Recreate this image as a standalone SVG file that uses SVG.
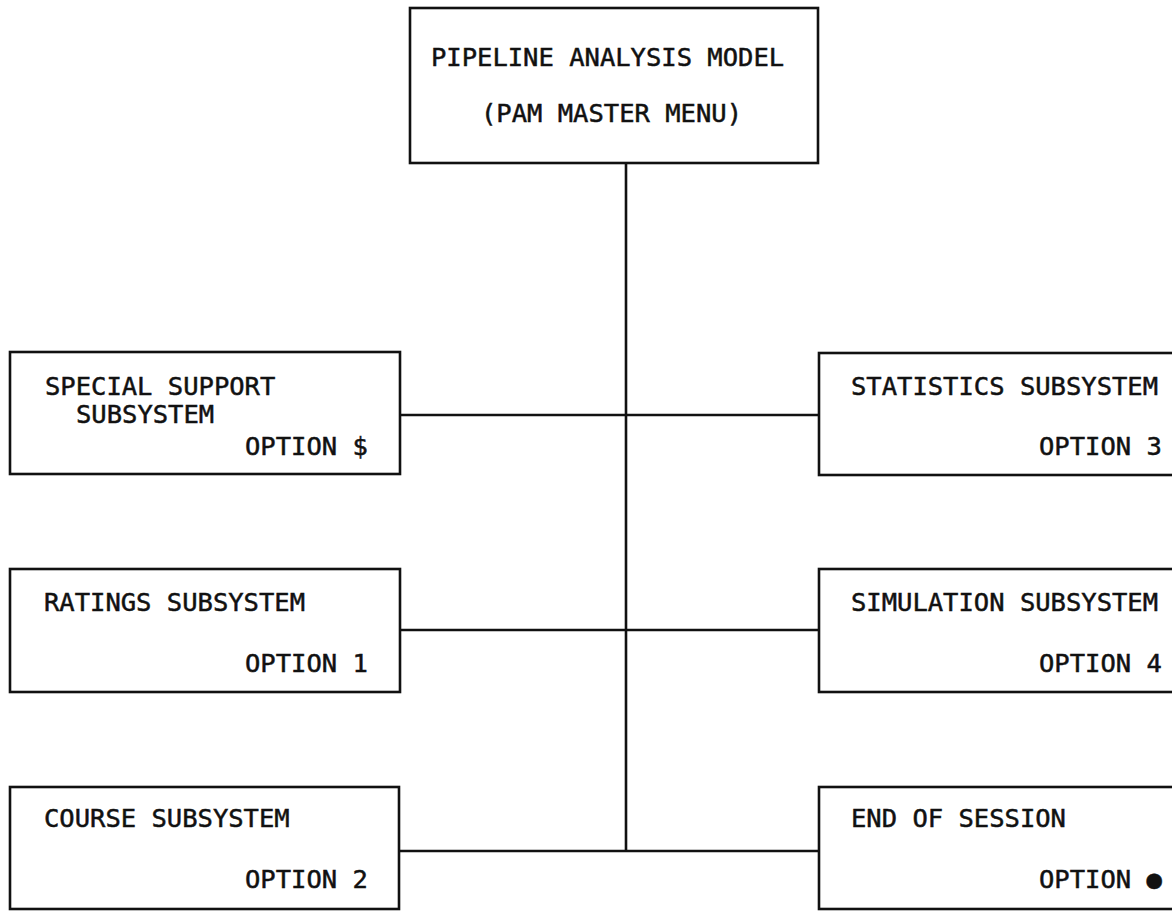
<svg xmlns="http://www.w3.org/2000/svg" width="1172" height="913" viewBox="0 0 1172 913">
<style>
.box{fill:#fff;stroke:#111;stroke-width:2.6}
.t{font-family:"DejaVu Sans Mono","Liberation Mono",monospace;font-size:25.5px;fill:#111;stroke:#111;stroke-width:0.5}
.c{stroke:#111;stroke-width:2.6;fill:none}
</style>
<rect width="1172" height="913" fill="#fff"/>
<g id="connectors">
<line class="c" x1="626" y1="163" x2="626" y2="851"/>
<line class="c" x1="400" y1="415" x2="819" y2="415"/>
<line class="c" x1="400" y1="630" x2="819" y2="630"/>
<line class="c" x1="399" y1="851" x2="819" y2="851"/>
</g>
<g id="master">
<rect class="box" x="410" y="8" width="408" height="155"/>
<text class="t" x="431" y="66">PIPELINE ANALYSIS MODEL</text>
<text class="t" x="481" y="122">(PAM MASTER MENU)</text>
</g>
<g id="special">
<rect class="box" x="10" y="352" width="390" height="122"/>
<text class="t" x="45" y="395">SPECIAL SUPPORT</text>
<text class="t" x="76" y="423">SUBSYSTEM</text>
<text class="t" x="245" y="455">OPTION $</text>
</g>
<g id="ratings">
<rect class="box" x="10" y="569" width="390" height="123"/>
<text class="t" x="44" y="611">RATINGS SUBSYSTEM</text>
<text class="t" x="245" y="672">OPTION 1</text>
</g>
<g id="course">
<rect class="box" x="10" y="787" width="389" height="122"/>
<text class="t" x="44" y="827">COURSE SUBSYSTEM</text>
<text class="t" x="245" y="888">OPTION 2</text>
</g>
<g id="statistics">
<rect class="box" x="819" y="353" width="370" height="122"/>
<text class="t" x="851" y="395">STATISTICS SUBSYSTEM</text>
<text class="t" x="1039" y="455">OPTION 3</text>
</g>
<g id="simulation">
<rect class="box" x="819" y="569" width="370" height="123"/>
<text class="t" x="851" y="611">SIMULATION SUBSYSTEM</text>
<text class="t" x="1039" y="672">OPTION 4</text>
</g>
<g id="end">
<rect class="box" x="819" y="787" width="370" height="122"/>
<text class="t" x="851" y="827">END OF SESSION</text>
<text class="t" x="1039" y="888">OPTION ●</text>
</g>
</svg>
